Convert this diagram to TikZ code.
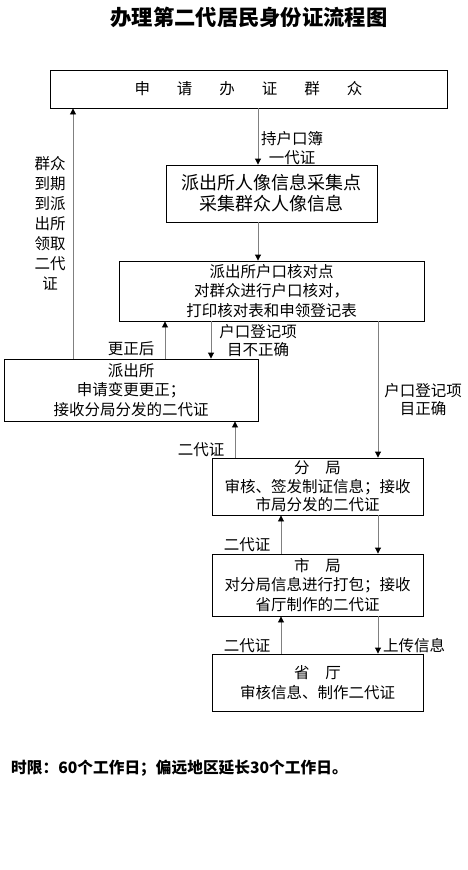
\documentclass[tikz,border=0pt]{standalone}
\usepackage{fontspec}
\setmainfont{Noto Sans CJK SC}
\usetikzlibrary{arrows.meta}
\begin{document}
\begin{tikzpicture}[x=1pt,y=-1pt,
  box/.style={draw=black,line width=0.9pt,rectangle,inner sep=0pt,align=center,
    font=\fontsize{15.5}{19.5}\selectfont},
  arr/.style={draw=black!50,line width=0.9pt,-{Triangle[length=6pt,width=6pt,color=black]}},
  lbl/.style={inner sep=0pt,align=center,font=\fontsize{15.5}{19}\selectfont}]
\useasboundingbox (0,0) rectangle (468,870);
% title
\node[inner sep=0pt,font=\fontsize{21.3}{24}\selectfont\bfseries] (title) at (249,17) {办理第二代居民身份证流程图};
% boxes
\node[box,minimum width=397pt,minimum height=38pt] (b1) at (248.5,89)
  {申\hspace{27pt}请\hspace{27pt}办\hspace{27pt}证\hspace{27pt}群\hspace{27pt}众};
\node[box,minimum width=211pt,minimum height=57pt,font=\fontsize{18}{21}\selectfont] (b2) at (271.5,193.5)
  {派出所人像信息采集点\\采集群众人像信息};
\node[box,minimum width=305pt,minimum height=60pt] (b3) at (271.5,291)
  {派出所户口核对点\\对群众进行户口核对，\\打印核对表和申领登记表};
\node[box,minimum width=254pt,minimum height=62pt] (b4) at (131,390)
  {派出所\\申请变更更正；\\接收分局分发的二代证};
\node[box,minimum width=211pt,minimum height=57pt,font=\fontsize{15.5}{18.5}\selectfont] (b5) at (317.5,486.5)
  {分\hspace{16pt}局\\审核、签发制证信息；接收\\市局分发的二代证};
\node[box,minimum width=211pt,minimum height=62pt] (b6) at (317.5,585)
  {市\hspace{16pt}局\\对分局信息进行打包；接收\\省厅制作的二代证};
\node[box,minimum width=211pt,minimum height=57pt] (b7) at (317.5,682.5)
  {省\hspace{16pt}厅\\审核信息、制作二代证};
% helper x positions
\coordinate (xa) at (258,0);
\coordinate (xl) at (73,0);
\coordinate (xu) at (165,0);
\coordinate (xd) at (211,0);
\coordinate (xr) at (378,0);
\coordinate (xe) at (235,0);
\coordinate (xf) at (281,0);
% connectors
\draw[arr] (b1.south -| xa) -- (b2.north -| xa);
\draw[arr] (b2.south -| xa) -- (b3.north -| xa);
\draw[arr] (b4.north -| xl) -- (b1.south -| xl);
\draw[arr] (b4.north -| xu) -- (b3.south -| xu);
\draw[arr] (b3.south -| xd) -- (b4.north -| xd);
\draw[arr] (b3.south -| xr) -- (b5.north -| xr);
\draw[arr] (b5.north -| xe) -- (b4.south -| xe);
\draw[arr] (b6.north -| xf) -- (b5.south -| xf);
\draw[arr] (b5.south -| xr) -- (b6.north -| xr);
\draw[arr] (b7.north -| xf) -- (b6.south -| xf);
\draw[arr] (b6.south -| xr) -- (b7.north -| xr);
% labels
\node[lbl] (l1) at (292,148) {持户口簿\\一代证};
\node[lbl,font=\fontsize{15.5}{20}\selectfont] (l2) at (50,223) {群众\\到期\\到派\\出所\\领取\\二代\\证};
\node[lbl] (l3) at (131,349) {更正后};
\node[lbl,font=\fontsize{15.5}{18}\selectfont] (l4) at (258,341) {户口登记项\\目不正确};
\node[lbl,font=\fontsize{15.5}{17.5}\selectfont] (l5) at (423,399.5) {户口登记项\\目正确};
\node[lbl] (l6) at (201,450) {二代证};
\node[lbl] (l7) at (247,545) {二代证};
\node[lbl] (l8) at (247,646) {二代证};
\node[lbl,anchor=west] (l9) at (383,646) {上传信息};
% footer
\node[inner sep=0pt,anchor=west,font=\fontsize{15.7}{18}\selectfont\bfseries] (foot) at (11,768)
  {时限：60个工作日；偏远地区延长30个工作日。};
\end{tikzpicture}
\end{document}
